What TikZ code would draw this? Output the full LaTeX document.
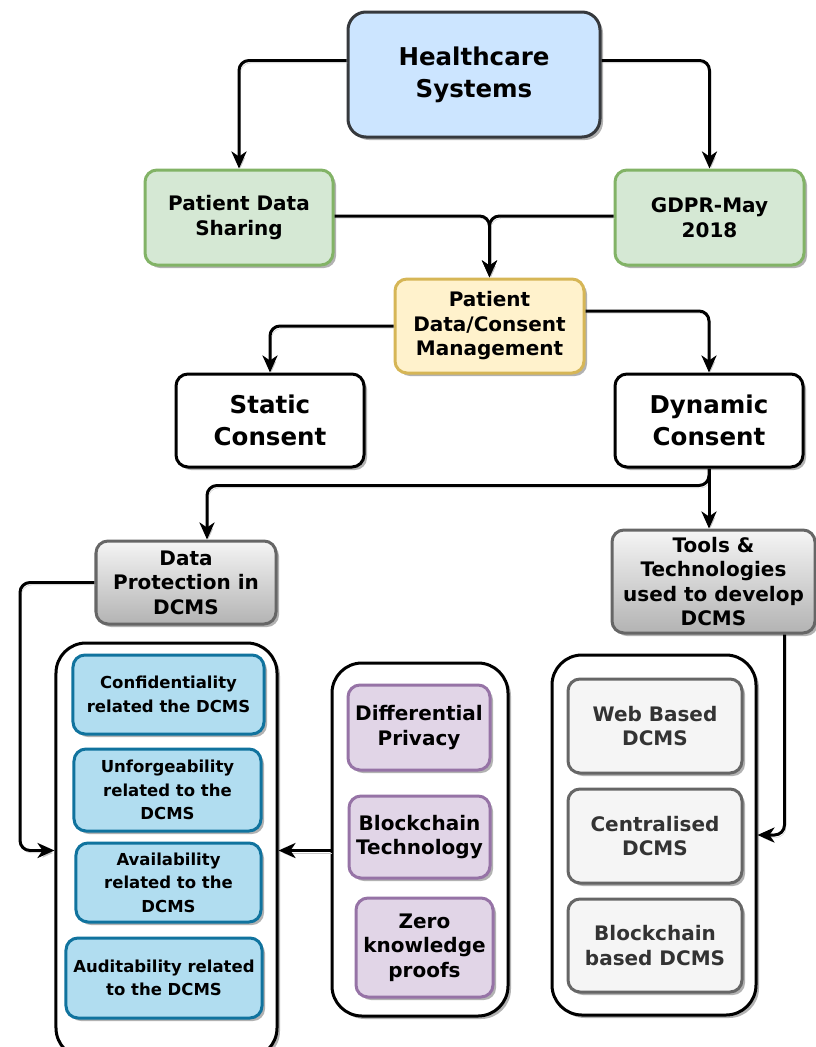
\documentclass[tikz,border=0pt]{standalone}
\usepackage{fontspec}
\setmainfont{DejaVu Sans}
\usetikzlibrary{arrows.meta,shadows,calc}
\definecolor{hcfill}{HTML}{CCE5FF}
\definecolor{hcdraw}{HTML}{36393D}
\definecolor{grfill}{HTML}{D5E8D4}
\definecolor{grdraw}{HTML}{82B366}
\definecolor{yefill}{HTML}{FFF2CC}
\definecolor{yedraw}{HTML}{D6B656}
\definecolor{gytop}{HTML}{F5F5F5}
\definecolor{gybot}{HTML}{B3B3B3}
\definecolor{gydraw}{HTML}{666666}
\definecolor{gytext}{HTML}{333333}
\definecolor{blfill}{HTML}{B1DDF0}
\definecolor{bldraw}{HTML}{10739E}
\definecolor{pufill}{HTML}{E1D5E7}
\definecolor{pudraw}{HTML}{9673A6}
\begin{document}
\begin{tikzpicture}[x=1bp,y=-1bp,
  base/.style={rounded corners=12bp, line width=3bp, inner sep=0pt, align=center,
    drop shadow={shadow xshift=3bp, shadow yshift=-3bp, opacity=0.3, fill=black}},
  big/.style={font=\bfseries\fontsize{24.5bp}{32bp}\selectfont},
  mid/.style={font=\bfseries\fontsize{20bp}{24.5bp}\selectfont},
  small/.style={font=\bfseries\fontsize{16.5bp}{23.5bp}\selectfont},
  hcbox/.style={base, big, rounded corners=18bp, fill=hcfill, draw=hcdraw},
  grbox/.style={base, mid, fill=grfill, draw=grdraw},
  yebox/.style={base, mid, fill=yefill, draw=yedraw},
  whbox/.style={base, big, fill=white, draw=black},
  gybox/.style={base, mid, top color=gytop, bottom color=gybot, draw=gydraw},
  container/.style={base, rounded corners=30bp, fill=white, draw=black},
  blbox/.style={base, small, fill=blfill, draw=bldraw},
  pubox/.style={base, mid, fill=pufill, draw=pudraw},
  ltbox/.style={base, mid, fill=gytop, draw=gydraw, text=gytext},
  conn/.style={line width=3bp, rounded corners=10bp, draw=black,
    -{Stealth[length=17bp,width=15bp,inset=5bp]},
    preaction={draw=black!22, transform canvas={shift={(1.5bp,-2.5bp)}}}}
]
\useasboundingbox (0,0) rectangle (816,1047);
\clip (0,0) rectangle (816,1047);

% top level
\node[hcbox, minimum width=252bp, minimum height=125bp] (hc) at (474,74.5) {Healthcare\\Systems};
\node[grbox, minimum width=188bp, minimum height=95bp] (pds) at (239,217.5) {Patient Data\\Sharing};
\node[grbox, minimum width=189bp, minimum height=95bp] (gdpr) at (709.5,217.5) {GDPR-May\\2018};
\node[yebox, minimum width=189bp, minimum height=94bp] (pdcm) at (489.5,326) {Patient\\Data/Consent\\Management};
\node[whbox, minimum width=188bp, minimum height=93bp] (static) at (270,420.5) {Static\\Consent};
\node[whbox, minimum width=188bp, minimum height=93bp] (dyn) at (709,420.5) {Dynamic\\Consent};
\node[gybox, minimum width=180bp, minimum height=83bp] (dp) at (186,582.5) {Data\\Protection in\\DCMS};
\node[gybox, minimum width=203bp, minimum height=103bp] (tools) at (713.5,581.5) {Tools \&\\Technologies\\used to develop\\DCMS};

% containers
\node[container, minimum width=221bp, minimum height=415bp] (lc) at (166.5,850.5) {};
\node[container, minimum width=176bp, minimum height=353bp] (mc) at (420,839.5) {};
\node[container, minimum width=204bp, minimum height=360bp] (rc) at (654,835) {};

% left container
\node[blbox, minimum width=191bp, minimum height=79bp] (conf) at (168.5,694.5) {Confidentiality\\related the DCMS};
\node[blbox, minimum width=187bp, minimum height=82bp] (unf) at (167.5,790) {Unforgeability\\related to the\\DCMS};
\node[blbox, minimum width=185bp, minimum height=79bp] (avail) at (168.5,882.5) {Availability\\related to the\\DCMS};
\node[blbox, minimum width=196bp, minimum height=80bp] (audit) at (164,978) {Auditability related\\to the DCMS};

% middle container
\node[pubox, minimum width=142bp, minimum height=85bp] (diff) at (419,727.5) {Differential\\Privacy};
\node[pubox, minimum width=141bp, minimum height=82bp] (bt) at (419.5,837) {Blockchain\\Technology};
\node[pubox, minimum width=137bp, minimum height=99bp] (zk) at (424.5,947.5) {Zero\\knowledge\\proofs};

% right container
\node[ltbox, minimum width=174bp, minimum height=94bp] (web) at (655,726) {Web Based\\DCMS};
\node[ltbox, minimum width=174bp, minimum height=94bp] (cent) at (655,836) {Centralised\\DCMS};
\node[ltbox, minimum width=174bp, minimum height=93bp] (bbd) at (655,945.5) {Blockchain\\based DCMS};

% connectors
\draw[conn] ([yshift=14bp]hc.west) -| (pds.north);
\draw[conn] ([yshift=14bp]hc.east) -| (gdpr.north);
\draw[conn] ([yshift=1.5bp]pds.east) -| (pdcm.north);
\draw[conn] ([yshift=1.5bp]gdpr.west) -| (pdcm.north);
\draw[conn] (pdcm.west) -| (static.north);
\draw[conn] ([yshift=15bp]pdcm.east) -| (dyn.north);
\draw[conn] (dyn.south) -- ++(0,17) -| ([xshift=21bp]dp.north);
\draw[conn] (dyn.south) -- (dyn.south |- tools.north);
\draw[conn] (dp.west) -| (20,850.5) -- (lc.west);
\draw[conn] (mc.west |- lc.east) -- (lc.east);
\draw[conn] ([xshift=71bp]tools.south) |- (rc.east);
\end{tikzpicture}
\end{document}
